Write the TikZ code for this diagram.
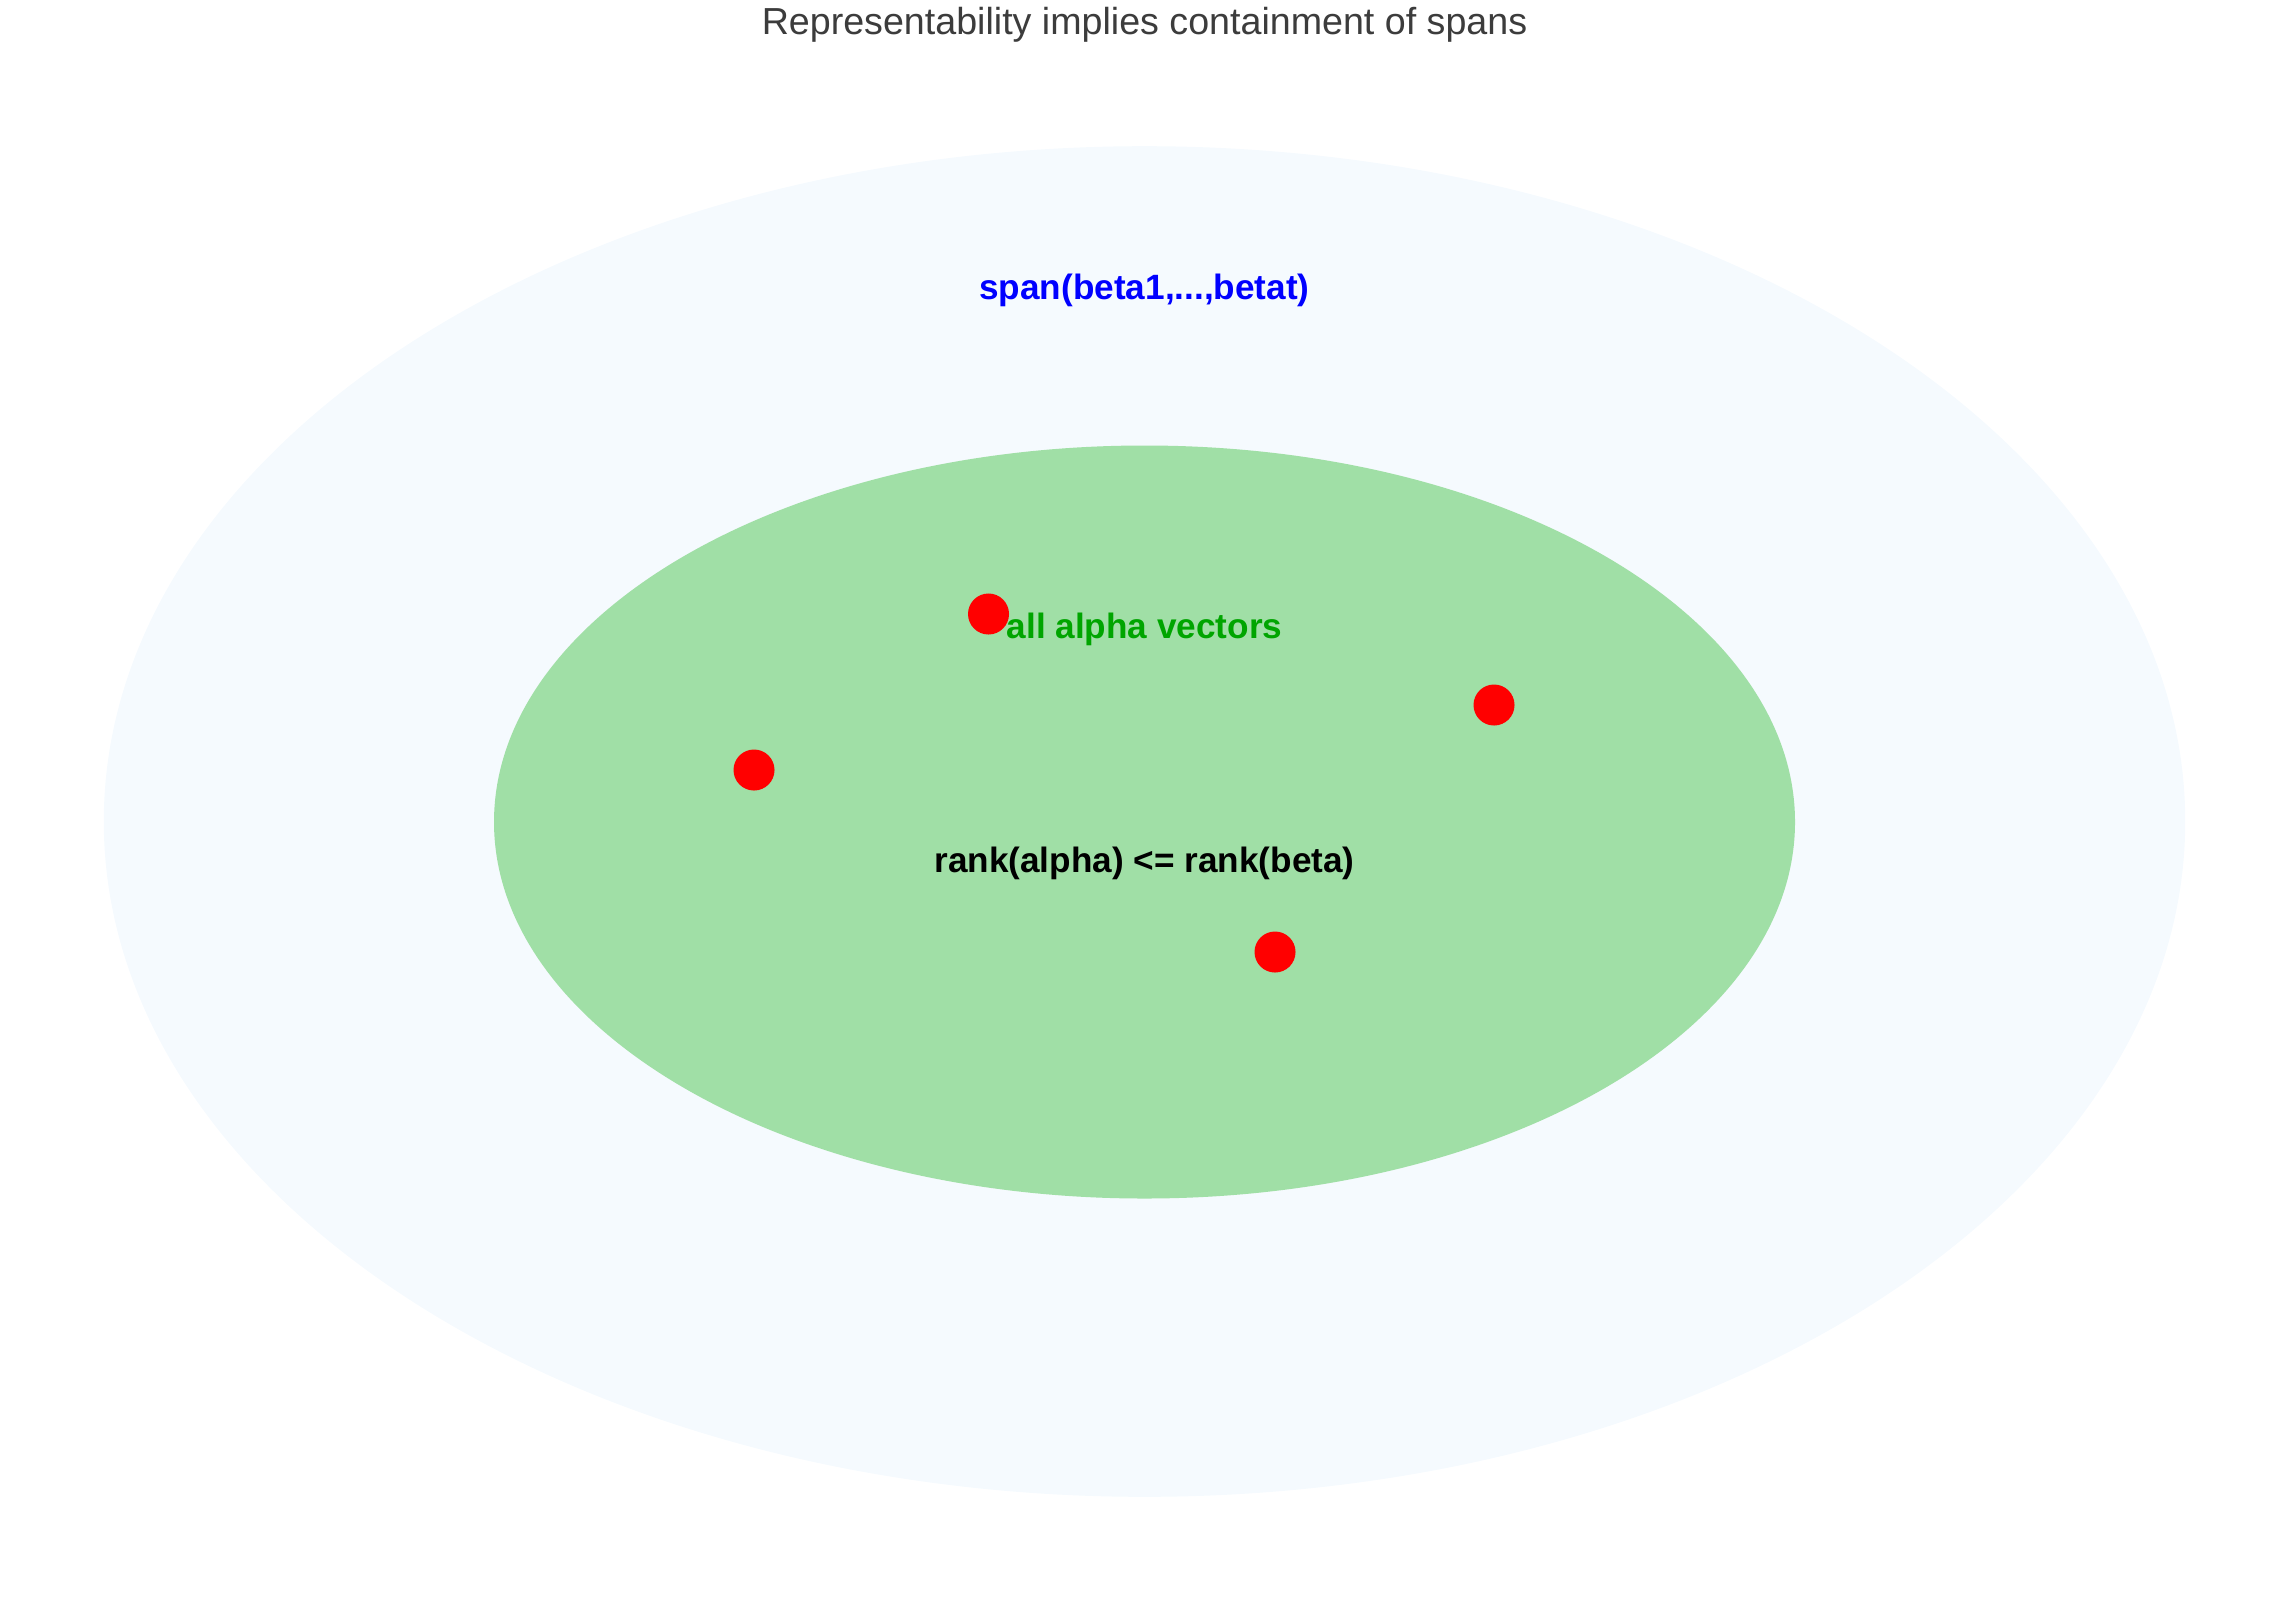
\documentclass[tikz,border=0pt]{standalone}
\usepackage{fontspec}
\setmainfont{Liberation Sans}
\usetikzlibrary{calc}
\definecolor{spanblue}{HTML}{F5FAFE}
\definecolor{alphagreen}{HTML}{A0DFA6}
\definecolor{labelgreen}{HTML}{00A500}
\definecolor{titlegray}{HTML}{3C3C3C}
\tikzset{
  reddot/.style={circle, fill=red, inner sep=0pt, minimum size=0.41cm},
  biglabel/.style={font=\fontsize{10}{12}\selectfont\bfseries, inner sep=0pt}
}

\begin{document}
\begin{tikzpicture}[x=0.01cm, y=-0.01cm]
			%%%%% START %%%%%
			
			\useasboundingbox (0, 0) rectangle (2292, 1606);
			
			\node[font=\fontsize{10.7}{12}\selectfont, text=titlegray, inner sep=0pt] (title) at (1144.5, 25) {Representability implies containment of spans};
			
			\fill[spanblue] (1144.5, 821.5) ellipse (1040.7 and 675.3);
			\fill[alphagreen] (1144.5, 822) ellipse (650.5 and 376.5);
			
			\node[reddot] (v1) at (988.5, 614) {};
			\node[reddot] (v2) at (754, 770) {};
			\node[reddot] (v3) at (1494, 705) {};
			\node[reddot] (v4) at (1275, 952) {};
			
			\node[biglabel, text=blue] (span) at (1144.5, 290) {span(beta1,...,betat)};
			\node[biglabel, text=labelgreen] (alpha) at (1144.5, 629) {all alpha vectors};
			\node[biglabel, text=black] (rank) at (1144.5, 863) {rank(alpha) <= rank(beta)};
			
			%%%%% END %%%%%
		\end{tikzpicture}
\end{document}
